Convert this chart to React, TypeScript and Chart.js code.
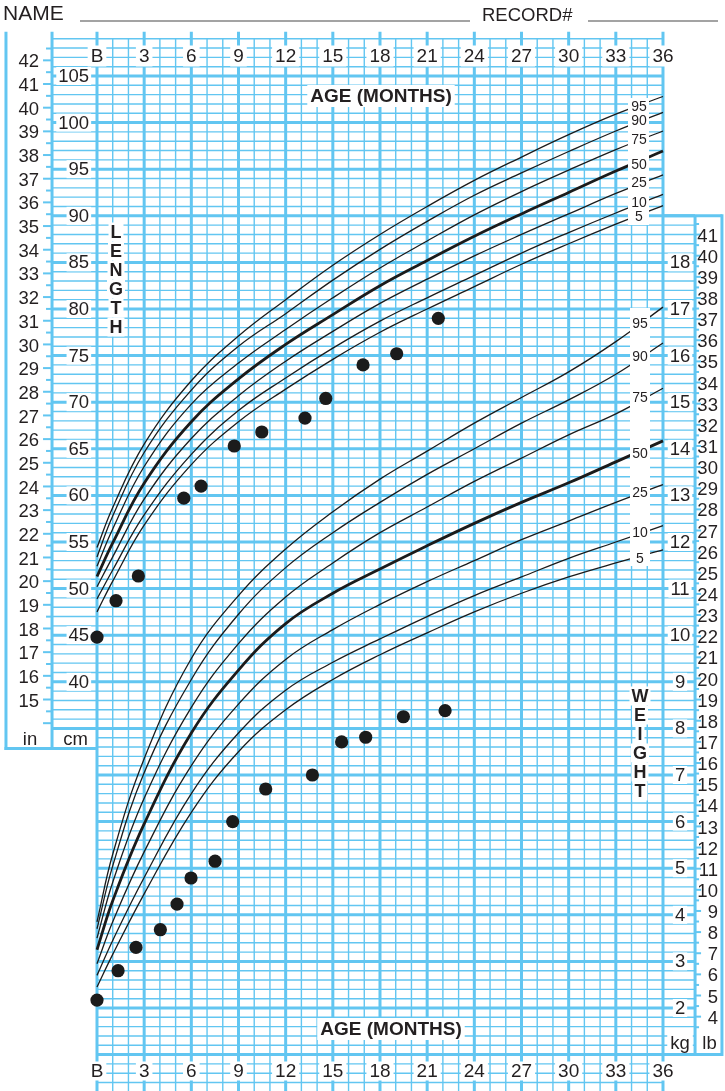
import React, { useEffect, useRef } from "react";
import { Chart, registerables } from "chart.js";
Chart.register(...registerables);

// ---------- DATA ----------
const AGES = [0, 1, 3, 6, 9, 12, 15, 18, 21, 24, 27, 30, 33, 36];
const PERCENTILES = ["5", "10", "25", "50", "75", "90", "95"];

// Length-for-age percentiles (cm)
const LEN_P5 = [47.5, 50.8, 56.8, 63.3, 67.9, 71.4, 74.6, 77.5, 80.0, 82.4, 84.8, 87.0, 89.1, 91.1];
const LEN_P10 = [48.9, 52.0, 57.9, 64.4, 69.1, 72.6, 75.8, 78.7, 81.2, 83.6, 86.0, 88.2, 90.3, 92.3];
const LEN_P25 = [50.2, 53.4, 59.6, 66.1, 70.7, 74.4, 77.6, 80.6, 83.2, 85.7, 88.0, 90.2, 92.4, 94.4];
const LEN_P50 = [51.3, 54.9, 61.3, 67.9, 72.5, 76.2, 79.4, 82.5, 85.2, 87.8, 90.2, 92.5, 94.8, 96.95];
const LEN_P75 = [52.4, 56.4, 63.1, 69.8, 74.2, 77.8, 81.2, 84.4, 87.3, 90.1, 92.6, 94.9, 97.1, 99.1];
const LEN_P90 = [53.4, 57.8, 64.6, 71.3, 76.0, 79.5, 83.1, 86.4, 89.4, 92.2, 94.6, 96.9, 99.1, 101.1];
const LEN_P95 = [54.4, 58.7, 65.5, 72.3, 77.1, 81.0, 84.7, 88.0, 91.0, 93.8, 96.3, 98.7, 100.9, 102.8];

// Weight-for-age percentiles (kg)
const WT_P5 = [2.45, 3.15, 4.45, 6.2, 7.5, 8.4, 9.05, 9.58, 10.05, 10.5, 10.9, 11.25, 11.55, 11.83];
const WT_P10 = [2.7, 3.45, 4.8, 6.6, 7.9, 8.82, 9.42, 9.92, 10.4, 10.85, 11.25, 11.65, 12.0, 12.35];
const WT_P25 = [2.95, 3.85, 5.35, 7.2, 8.52, 9.48, 10.12, 10.66, 11.15, 11.6, 12.05, 12.45, 12.85, 13.23];
const WT_P50 = [3.25, 4.3, 5.95, 7.9, 9.25, 10.25, 10.9, 11.42, 11.92, 12.4, 12.85, 13.27, 13.72, 14.17];
const WT_P75 = [3.5, 4.7, 6.5, 8.45, 9.82, 10.82, 11.55, 12.2, 12.75, 13.3, 13.8, 14.3, 14.75, 15.3];
const WT_P90 = [3.7, 5.05, 7.05, 9.05, 10.45, 11.45, 12.2, 12.85, 13.45, 14.0, 14.55, 15.05, 15.6, 16.27];
const WT_P95 = [3.85, 5.3, 7.35, 9.5, 10.85, 11.85, 12.65, 13.35, 13.95, 14.55, 15.1, 15.65, 16.3, 17.04];

// Child's measurements
const LEN_PT_AGE = [0, 1.21, 2.63, 5.52, 6.62, 8.73, 10.48, 13.23, 14.55, 16.92, 19.06, 21.71];
const LEN_PT_CM = [44.8, 48.7, 51.35, 59.7, 61.0, 65.3, 66.8, 68.3, 70.4, 74.0, 75.2, 79.0];
const WT_PT_AGE = [0, 1.34, 2.48, 4.03, 5.09, 5.98, 7.51, 8.63, 10.73, 13.7, 15.56, 17.09, 19.49, 22.14];
const WT_PT_KG = [2.17, 2.8, 3.3, 3.68, 4.23, 4.79, 5.15, 6.0, 6.7, 7.0, 7.71, 7.81, 8.25, 8.38];

// Tick labels
const MONTH_TICKS = ["B", "3", "6", "9", "12", "15", "18", "21", "24", "27", "30", "33", "36"];
const CM_TICKS = [40, 45, 50, 55, 60, 65, 70, 75, 80, 85, 90, 95, 100, 105];
const KG_TICKS = [2, 3, 4, 5, 6, 7, 8, 9, 10, 11, 12, 13, 14, 15, 16, 17, 18];
const IN_TICKS = [15, 16, 17, 18, 19, 20, 21, 22, 23, 24, 25, 26, 27, 28, 29, 30, 31, 32, 33, 34, 35, 36, 37, 38, 39, 40, 41, 42];
const LB_TICKS = [4, 5, 6, 7, 8, 9, 10, 11, 12, 13, 14, 15, 16, 17, 18, 19, 20, 21, 22, 23, 24, 25, 26, 27, 28, 29, 30, 31, 32, 33, 34, 35, 36, 37, 38, 39, 40, 41];

// ---------- STYLE ----------
const W = 725;
const H = 1091;
const BLUE = "#62C6F1";
const INK = "#231f20";
const FONT = "'Liberation Sans', Arial, Helvetica, sans-serif";
const LEN_LABEL_Y = [217, 203, 183, 165, 140, 121.5, 107];
const WT_LABEL_Y = [559, 533, 493, 454, 398, 357, 324];

function hLine(ctx: CanvasRenderingContext2D, x0: number, x1: number, y: number) {
  ctx.beginPath();
  ctx.moveTo(x0, y);
  ctx.lineTo(x1, y);
  ctx.stroke();
}
function vLine(ctx: CanvasRenderingContext2D, x: number, y0: number, y1: number) {
  ctx.beginPath();
  ctx.moveTo(x, y0);
  ctx.lineTo(x, y1);
  ctx.stroke();
}
function boxText(
  ctx: CanvasRenderingContext2D,
  text: string,
  x: number,
  y: number,
  align: CanvasTextAlign,
  padX: number,
  h: number
) {
  const w = ctx.measureText(text).width;
  const left = align === "center" ? x - w / 2 : align === "right" ? x - w : x;
  ctx.fillStyle = "#fff";
  ctx.fillRect(left - padX, y - h / 2, w + padX * 2, h);
  ctx.fillStyle = INK;
  ctx.textAlign = align;
  ctx.textBaseline = "middle";
  ctx.fillText(text, x, y + 1);
}

const gridPlugin = {
  id: "growthGrid",
  beforeDatasetsDraw(chart: any) {
    const ctx: CanvasRenderingContext2D = chart.ctx;
    const X = (m: number) => chart.scales.x.getPixelForValue(m);
    const Y = (cm: number) => chart.scales.y.getPixelForValue(cm);
    const YK = (kg: number) => chart.scales.y2.getPixelForValue(kg);
    const xIn = X(-5.79);
    const xCmL = X(-2.86);
    const xKgR = X(38.04);
    const xLbR = X(39.75);
    ctx.save();
    ctx.fillStyle = "#fff";
    ctx.fillRect(0, 0, W, H);
    ctx.strokeStyle = BLUE;

    // horizontal grid (1 cm = 0.2 kg)
    for (let c = -4; c <= 109; c++) {
      const y = Y(c);
      const thick = c % 5 === 0;
      ctx.lineWidth = thick ? 3 : 1.4;
      let x0 = X(0);
      let x1 = X(36);
      if (c >= 35) x0 = xCmL;
      if (c >= 0 && c <= 90) x1 = xKgR;
      hLine(ctx, x0, x1, y);
    }
    // vertical grid
    for (let m = 0; m <= 36; m++) {
      const thick = m % 3 === 0;
      ctx.lineWidth = thick ? 3 : 1.4;
      vLine(ctx, X(m), thick ? Y(109.75) : Y(109), H);
    }
    // left panel
    ctx.lineWidth = 3;
    const boxBottom = Y(32.85);
    vLine(ctx, xIn, Y(109.75), boxBottom + 1.5);
    vLine(ctx, xCmL, Y(109.75), boxBottom);
    hLine(ctx, xIn - 1.5, X(0), boxBottom);
    // right panel
    vLine(ctx, xKgR, Y(90), Y(0));
    vLine(ctx, xLbR, Y(90) - 1.5, Y(0) + 1.5);
    hLine(ctx, X(36), xLbR, Y(90));
    hLine(ctx, X(36), xLbR, Y(0));

    // inch ticks
    ctx.lineWidth = 2;
    for (let i = 14; i <= 42.5; i += 0.5) {
      const y = Y(i * 2.54);
      const isInt = Number.isInteger(i);
      hLine(ctx, isInt ? xCmL - 9 : xCmL - 6, xCmL, y);
    }
    // lb ticks
    for (let lb = 3.5; lb <= 41.5; lb += 0.5) {
      const y = YK(lb * 0.45359);
      const isInt = Number.isInteger(lb);
      hLine(ctx, xKgR, xKgR + (isInt ? 6 : 4), y);
    }

    // labels
    ctx.font = `18.5px ${FONT}`;
    ctx.fillStyle = INK;
    ctx.textBaseline = "middle";
    ctx.textAlign = "right";
    IN_TICKS.forEach((v) => ctx.fillText(String(v), xCmL - 13, Y(v * 2.54) + 2));
    CM_TICKS.forEach((v) => boxText(ctx, String(v), X(-0.5), Y(v), "right", 2, 18));
    KG_TICKS.forEach((v) => boxText(ctx, String(v), (X(36) + xKgR) / 2 + 1, YK(v), "center", 2, 18));
    ctx.fillStyle = INK;
    ctx.textAlign = "right";
    ctx.textBaseline = "middle";
    LB_TICKS.forEach((v) => ctx.fillText(String(v), xLbR - 4, YK(v * 0.45359) + 2));

    boxText(ctx, "in", (xIn + xCmL) / 2 + 1, boxBottom - 10, "center", 2, 16);
    boxText(ctx, "cm", (xCmL + X(0)) / 2 + 1, boxBottom - 10, "center", 2, 16);
    boxText(ctx, "kg", (X(36) + xKgR) / 2 + 1, Y(0) - 12, "center", 3, 20);
    boxText(ctx, "lb", (xKgR + xLbR) / 2 + 1, Y(0) - 12, "center", 2, 20);

    // month labels top & bottom
    ctx.font = `19px ${FONT}`;
    MONTH_TICKS.forEach((t, i) => {
      boxText(ctx, t, X(i * 3), 56, "center", 3, 21);
      boxText(ctx, t, X(i * 3), 1071, "center", 3, 19);
    });

    // axis titles
    ctx.font = `bold 19px ${FONT}`;
    boxText(ctx, "AGE (MONTHS)", 381, 96, "center", 3, 22);
    boxText(ctx, "AGE (MONTHS)", 391, 1029, "center", 3, 22);
    ctx.font = `bold 18px ${FONT}`;
    "LENGTH".split("").forEach((ch, i) => boxText(ctx, ch, 116, 232 + i * 19, "center", 2, 19));
    "WEIGHT".split("").forEach((ch, i) => boxText(ctx, ch, 640, 696 + i * 19, "center", 2, 19));

    // header
    ctx.fillStyle = INK;
    ctx.textAlign = "left";
    ctx.textBaseline = "middle";
    ctx.font = `21px ${FONT}`;
    ctx.fillText("NAME", 3, 14);
    ctx.font = `18.5px ${FONT}`;
    ctx.fillText("RECORD#", 482, 16);
    ctx.strokeStyle = "#a3a3a3";
    ctx.lineWidth = 2;
    hLine(ctx, 80, 470, 21);
    hLine(ctx, 588, 718, 21);
    ctx.restore();
  },
  afterDatasetsDraw(chart: any) {
    const ctx: CanvasRenderingContext2D = chart.ctx;
    ctx.save();
    ctx.fillStyle = "#fff";
    ctx.fillRect(628, 98, 21, 127);
    ctx.fillRect(630, 308, 20, 258);
    ctx.font = `14px ${FONT}`;
    PERCENTILES.forEach((p, i) => {
      ctx.fillStyle = INK;
      ctx.textAlign = "center";
      ctx.textBaseline = "middle";
      ctx.fillText(p, 639, LEN_LABEL_Y[i]);
      ctx.fillText(p, 640, WT_LABEL_Y[i]);
    });
    ctx.restore();
  },
};

const LEN_SERIES = [LEN_P5, LEN_P10, LEN_P25, LEN_P50, LEN_P75, LEN_P90, LEN_P95];
const WT_SERIES = [WT_P5, WT_P10, WT_P25, WT_P50, WT_P75, WT_P90, WT_P95];

export default function App() {
  const ref = useRef<HTMLCanvasElement | null>(null);
  useEffect(() => {
    document.body.style.margin = "0";
    const curve = (vals: number[], axis: string, i: number) => ({
      label: `${axis}-${PERCENTILES[i]}`,
      data: AGES.map((a, k) => ({ x: a, y: vals[k] })),
      yAxisID: axis,
      borderColor: "#1b1b1b",
      borderWidth: PERCENTILES[i] === "50" ? 2.8 : 1.3,
      pointRadius: 0,
      fill: false,
      tension: 0.4,
    });
    const datasets: any[] = [
      ...LEN_SERIES.map((s, i) => curve(s, "y", i)),
      ...WT_SERIES.map((s, i) => curve(s, "y2", i)),
      {
        label: "length",
        data: LEN_PT_AGE.map((a, k) => ({ x: a, y: LEN_PT_CM[k] })),
        yAxisID: "y",
        showLine: false,
        pointRadius: 6.6,
        pointBackgroundColor: "#1b1b1b",
        pointBorderWidth: 0,
      },
      {
        label: "weight",
        data: WT_PT_AGE.map((a, k) => ({ x: a, y: WT_PT_KG[k] })),
        yAxisID: "y2",
        showLine: false,
        pointRadius: 6.6,
        pointBackgroundColor: "#1b1b1b",
        pointBorderWidth: 0,
      },
    ];
    const chart = new Chart(ref.current as HTMLCanvasElement, {
      type: "line",
      data: { datasets },
      options: {
        animation: false,
        responsive: false,
        devicePixelRatio: 1,
        layout: { padding: 0, autoPadding: false },
        plugins: { legend: { display: false }, tooltip: { enabled: false } },
        scales: {
          x: { type: "linear", min: -97 / 15.722, max: (725 - 97) / 15.722, display: false },
          y: { type: "linear", min: 105 - 1015 / 9.32, max: 105 + 76 / 9.32, display: false },
          y2: {
            type: "linear",
            min: (105 - 1015 / 9.32 + 5) / 5,
            max: (105 + 76 / 9.32 + 5) / 5,
            display: false,
          },
        },
      },
      plugins: [gridPlugin],
    });
    return () => chart.destroy();
  }, []);
  return (
    <div style={{ position: "absolute", left: 0, top: 0, width: W, height: H, background: "#fff" }}>
      <canvas ref={ref} width={W} height={H} style={{ display: "block", width: W, height: H }} />
    </div>
  );
}
